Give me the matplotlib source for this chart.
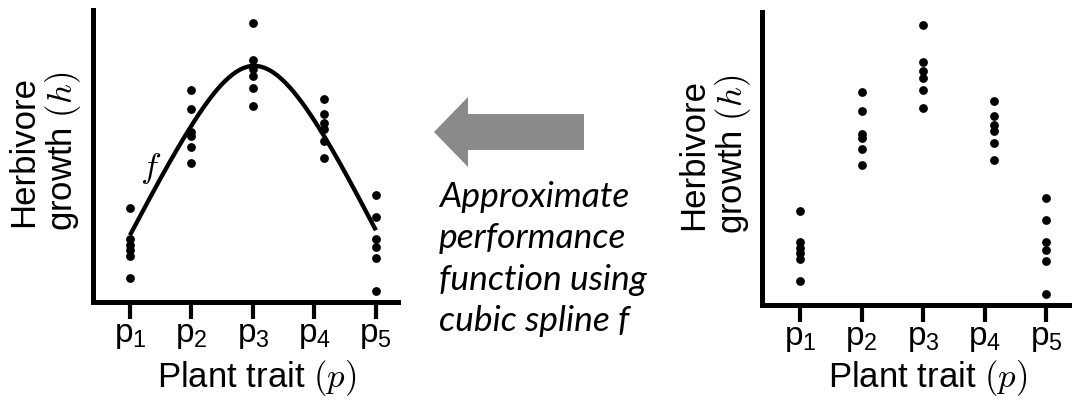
import numpy as np
import matplotlib
matplotlib.use('Agg')
import matplotlib.pyplot as plt
import matplotlib.transforms as mtransforms
from matplotlib.patches import Polygon

plt.rcParams['font.family'] = ['Liberation Sans', 'DejaVu Sans']
plt.rcParams['mathtext.fontset'] = 'custom'
plt.rcParams['mathtext.rm'] = 'Liberation Sans'
plt.rcParams['mathtext.it'] = 'Liberation Sans:italic'

# plant trait levels and observed herbivore growth (6 replicates each)
traits = [1, 2, 3, 4, 5]
trait_labels = [r'p$_1$', r'p$_2$', r'p$_3$', r'p$_4$', r'p$_5$']
dot_x = [1, 2, 3, 4.16, 5]
growth = [
    [9.2, 6.1, 5.5, 5.0, 4.4, 2.2],
    [21.1, 19.2, 16.9, 16.5, 15.4, 13.8],
    [27.8, 24.1, 23.2, 22.5, 21.3, 19.5],
    [20.2, 18.7, 17.8, 17.2, 16.0, 14.3],
    [10.5, 8.3, 6.1, 5.3, 4.2, 0.9],
]
# knots of the cubic spline f
spline_knots = [6.5, 17.5, 23.5, 18.0, 7.0]


def natural_spline(xk, yk, xs):
    xk = np.asarray(xk, float)
    yk = np.asarray(yk, float)
    n = len(xk)
    h = np.diff(xk)
    A = np.zeros((n, n))
    b = np.zeros(n)
    A[0, 0] = A[-1, -1] = 1
    for i in range(1, n - 1):
        A[i, i - 1] = h[i - 1]
        A[i, i] = 2 * (h[i - 1] + h[i])
        A[i, i + 1] = h[i]
        b[i] = 6 * ((yk[i + 1] - yk[i]) / h[i] - (yk[i] - yk[i - 1]) / h[i - 1])
    M = np.linalg.solve(A, b)
    idx = np.clip(np.searchsorted(xk, xs) - 1, 0, n - 2)
    x0 = xk[idx]
    x1 = xk[idx + 1]
    hh = x1 - x0
    t0 = x1 - xs
    t1 = xs - x0
    return ((M[idx] * t0**3 + M[idx + 1] * t1**3) / (6 * hh)
            + (yk[idx] / hh - M[idx] * hh / 6) * t0
            + (yk[idx + 1] / hh - M[idx + 1] * hh / 6) * t1)


def draw_panel(ax, xlim, label_x, xlabel_y):
    for xi, ys in zip(dot_x, growth):
        ax.scatter([xi] * len(ys), ys, s=40, color='black', zorder=3,
                   clip_on=False, linewidths=0)
    ax.set_xlim(*xlim)
    ax.set_ylim(-0.2, 29.1)
    for side in ['top', 'right']:
        ax.spines[side].set_visible(False)
    for side in ['left', 'bottom']:
        ax.spines[side].set_linewidth(3.6)
    ax.set_yticks([])
    ax.set_xticks(traits, labels=trait_labels)
    ax.tick_params(axis='x', length=12, width=3, pad=1, labelsize=24)
    ax.text(label_x, 0.515, 'Herbivore\ngrowth $(h)$', transform=ax.transAxes,
            rotation=90, ha='center', va='center', fontsize=25,
            math_fontfamily='cm', linespacing=1.1)
    trans = mtransforms.blended_transform_factory(ax.transData, ax.transAxes)
    ax.text(3.07, xlabel_y, 'Plant trait $(p)$', transform=trans,
            ha='center', va='center', fontsize=25, math_fontfamily='cm')


fig = plt.figure(figsize=(10.72, 4.01), dpi=100)

ax1 = fig.add_axes([0.0868, 0.2469, 0.2845, 0.728])
draw_panel(ax1, (0.40, 5.36), -0.157, -0.26)
xs = np.linspace(traits[0], traits[-1], 200)
ax1.plot(xs, natural_spline(traits, spline_knots, xs), color='black', lw=3.1,
         solid_capstyle='butt', zorder=2)
ax1.text(1.33, 13.2, '$f$', fontsize=25, math_fontfamily='cm',
         ha='center', va='center')

ax2 = fig.add_axes([0.7108, 0.2394, 0.2892, 0.7307])
draw_panel(ax2, (0.38, 5.42), -0.152, -0.25)

# overlay in pixel units for the arrow and the caption
over = fig.add_axes([0, 0, 1, 1])
over.set_xlim(0, 1072)
over.set_ylim(401, 0)
over.axis('off')
arrow = Polygon([(434, 132), (468, 97), (468, 114), (584, 114),
                 (584, 150), (468, 150), (468, 167)],
                closed=True, color='#8a8a8a', lw=0)
over.add_patch(arrow)
over.text(439, 181, 'Approximate\nperformance\nfunction using\ncubic spline f',
          ha='left', va='top', fontsize=25.5, family=['Lato', 'DejaVu Sans'],
          style='italic', linespacing=1.36)

fig.savefig('out.png', dpi=100)
